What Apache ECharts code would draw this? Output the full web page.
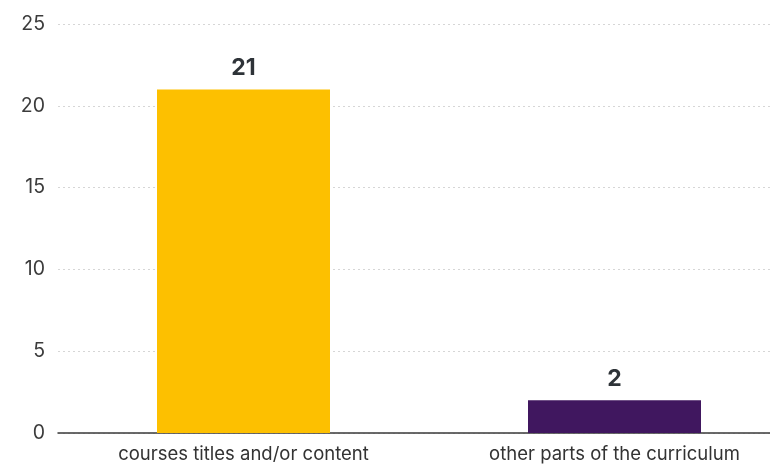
<!DOCTYPE html>
<html>
<head>
<meta charset="utf-8">
<script src="https://cdn.jsdelivr.net/npm/echarts@6/dist/echarts.min.js"></script>
<style>
  html, body { margin: 0; padding: 0; background: #fff; }
  #chart { width: 770px; height: 464px; }
</style>
</head>
<body>
<div id="chart"></div>
<script>
// Where the topic shows up in the programme, counted per response
const categories = ['courses titles and/or content', 'other parts of the curriculum'];
const counts = [21, 2];
const barColors = ['#FDC000', '#40175F'];
const yTicks = [0, 5, 10, 15, 20, 25];

const chart = echarts.init(document.getElementById('chart'));
chart.setOption({
  animation: false,
  grid: { left: 58, width: 742, top: 24, bottom: 31, outerBoundsMode: 'none' },
  xAxis: {
    type: 'category',
    data: categories,
    axisTick: { show: false },
    axisLine: { lineStyle: { color: '#3a3a3a', width: 1.5 } },
    axisLabel: { color: '#333', fontSize: 18.5, fontFamily: 'Inter', margin: 12 }
  },
  yAxis: {
    type: 'value',
    min: yTicks[0],
    max: yTicks[yTicks.length - 1],
    interval: 5,
    axisLine: { show: false },
    axisTick: { show: false },
    axisLabel: { color: '#3c3c3c', fontSize: 19.5, fontFamily: 'Inter', margin: 13 },
    splitLine: { lineStyle: { color: '#d6d6d6', type: [2, 3] } }
  },
  series: [{
    type: 'bar',
    barWidth: 173,
    data: counts.map((v, i) => ({ value: v, itemStyle: { color: barColors[i] } })),
    label: {
      show: true,
      position: 'top',
      distance: 10,
      color: '#2e3338',
      fontSize: 23,
      fontWeight: 'bold',
      fontFamily: 'Inter'
    }
  }]
});
</script>
</body>
</html>
